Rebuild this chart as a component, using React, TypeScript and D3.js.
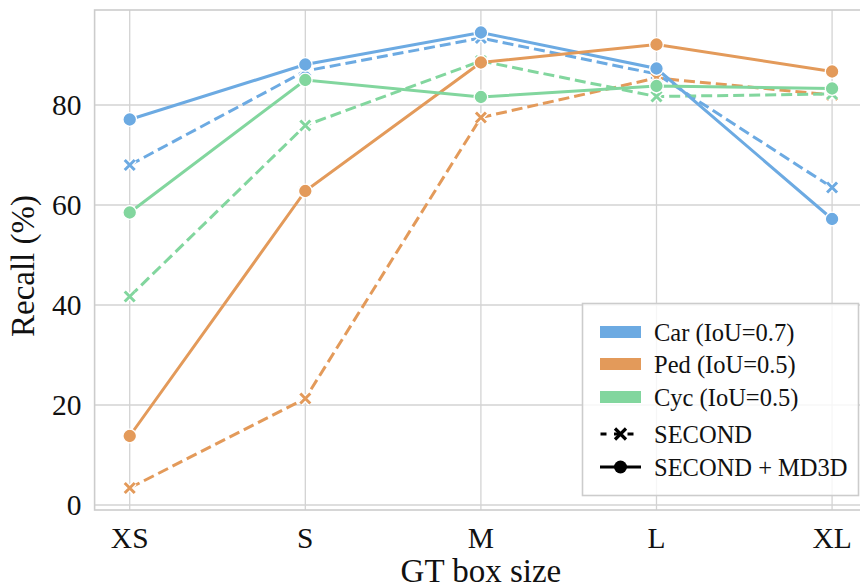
import React from "react";
import * as d3 from "d3";

const categories = ["XS", "S", "M", "L", "XL"];
const yTicks = [0, 20, 40, 60, 80];

const carSecond = [68.0, 86.8, 93.4, 86.2, 63.5];
const carMD3D = [77.1, 88.1, 94.5, 87.3, 57.2];
const pedSecond = [3.4, 21.3, 77.5, 85.4, 82.0];
const pedMD3D = [13.8, 62.8, 88.5, 92.1, 86.7];
const cycSecond = [41.7, 75.9, 88.8, 81.7, 82.2];
const cycMD3D = [58.5, 85.0, 81.6, 83.8, 83.3];

const classNames = ["Car (IoU=0.7)", "Ped (IoU=0.5)", "Cyc (IoU=0.5)"];
const colors = ["#6caae2", "#e39a5a", "#82d69e"];
const secondSeries = [carSecond, pedSecond, cycSecond];
const md3dSeries = [carMD3D, pedMD3D, cycMD3D];

const W = 860;
const H = 587;
const FONT = "'Liberation Serif', 'Times New Roman', serif";

export default function App() {
  const x = d3.scaleLinear().domain([-0.2, 4.2]).range([94.6, 867.2]);
  const y = d3.scaleLinear().domain([-1, 99]).range([510, 10]);
  const line = d3
    .line<number>()
    .x((_, i) => x(i))
    .y((d) => y(d));

  const xMarker = (cx: number, cy: number, s: number) =>
    `M${cx - s},${cy - s}L${cx + s},${cy + s}M${cx - s},${cy + s}L${cx + s},${cy - s}`;

  const left = x(-0.2);
  const right = x(4.2);
  const top = y(99);
  const bottom = y(-1);

  const lg = { x: 582.5, y: 303.5, w: 276, h: 192 };
  const rowY = [332, 364, 397, 434, 467];

  return (
    <svg
      width={W}
      height={H}
      style={{ position: "absolute", left: 0, top: 0, background: "#fff" }}
      fontFamily={FONT}
    >
      {/* grid */}
      {yTicks.map((t) => (
        <line key={"gy" + t} x1={left} x2={right} y1={y(t)} y2={y(t)} stroke="#d3d3d3" strokeWidth={1.3} />
      ))}
      {categories.map((c, i) => (
        <line key={"gx" + c} x1={x(i)} x2={x(i)} y1={top} y2={bottom} stroke="#d3d3d3" strokeWidth={1.3} />
      ))}
      {/* frame */}
      <rect x={left} y={top} width={right - left} height={bottom - top} fill="none" stroke="#cccccc" strokeWidth={1.6} />

      {/* SECOND (dashed) */}
      {secondSeries.map((s, k) => (
        <g key={"s" + k}>
          <path d={line(s) || ""} fill="none" stroke={colors[k]} strokeWidth={3} strokeDasharray="11,5" />
          {s.map((v, i) => (
            <g key={i}>
              <path d={xMarker(x(i), y(v), 5)} stroke="#fff" strokeWidth={5.5} />
              <path d={xMarker(x(i), y(v), 5)} stroke={colors[k]} strokeWidth={3} />
            </g>
          ))}
        </g>
      ))}
      {/* SECOND + MD3D (solid) */}
      {md3dSeries.map((s, k) => (
        <g key={"m" + k}>
          <path d={line(s) || ""} fill="none" stroke={colors[k]} strokeWidth={3} />
          {s.map((v, i) => (
            <circle key={i} cx={x(i)} cy={y(v)} r={6.8} fill={colors[k]} stroke="#fff" strokeWidth={1.3} />
          ))}
        </g>
      ))}

      {/* y tick labels */}
      {yTicks.map((t) => (
        <text key={"yt" + t} x={81.5} y={y(t)} dy="0.35em" textAnchor="end" fontSize={29.5} fill="#111">
          {t}
        </text>
      ))}
      {/* x tick labels */}
      {categories.map((c, i) => (
        <text key={"xt" + c} x={x(i)} y={548} textAnchor="middle" fontSize={29.5} fill="#111">
          {c}
        </text>
      ))}
      <text x={x(2)} y={581.5} textAnchor="middle" fontSize={33} fill="#111">
        GT box size
      </text>
      <text transform={`translate(34,266) rotate(-90)`} textAnchor="middle" fontSize={33} fill="#111">
        Recall (%)
      </text>

      {/* legend */}
      <rect x={lg.x} y={lg.y} width={lg.w} height={lg.h} fill="#fff" fillOpacity={0.8} stroke="#cccccc" strokeWidth={1.6} />
      {classNames.map((n, k) => (
        <g key={"lg" + k}>
          <rect x={600} y={rowY[k] - 6} width={41} height={12} fill={colors[k]} />
          <text x={654} y={rowY[k]} dy="0.35em" fontSize={24.5} fill="#111">
            {n}
          </text>
        </g>
      ))}
      <g>
        <line x1={600} x2={641} y1={rowY[3]} y2={rowY[3]} stroke="#000" strokeWidth={3} strokeDasharray="6,7.5" strokeDashoffset={-0.5} />
        <path d={xMarker(620.5, rowY[3], 5.5)} stroke="#000" strokeWidth={3.2} />
        <text x={654} y={rowY[3]} dy="0.35em" fontSize={24.5} fill="#111">
          SECOND
        </text>
      </g>
      <g>
        <line x1={600} x2={641} y1={rowY[4]} y2={rowY[4]} stroke="#000" strokeWidth={3} />
        <circle cx={620.5} cy={rowY[4]} r={6.5} fill="#000" />
        <text x={654} y={rowY[4]} dy="0.35em" fontSize={24.5} fill="#111">
          SECOND + MD3D
        </text>
      </g>
    </svg>
  );
}
